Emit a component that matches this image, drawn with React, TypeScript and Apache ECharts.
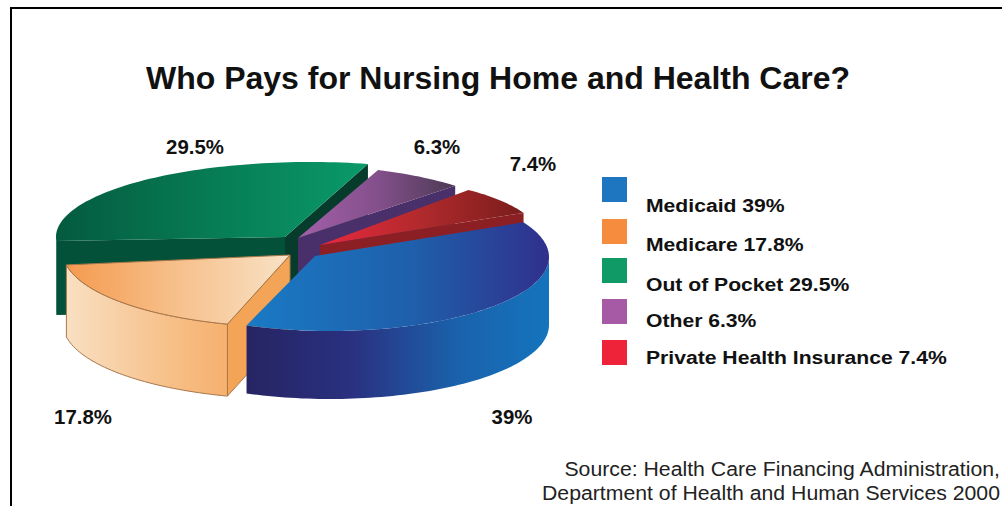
import React, { useEffect, useRef } from "react";
import * as echarts from "echarts";

const categories = ["Medicaid", "Medicare", "Out of Pocket", "Other", "Private Health Insurance"];
const shares = [39, 17.8, 29.5, 6.3, 7.4];
const titleText = "Who Pays for Nursing Home and Health Care?";
const sourceLines = [
  "Source: Health Care Financing Administration,",
  "Department of Health and Human Services 2000",
];

// Back-to-front painting order of the slices.
const paintOrder = [2, 3, 4, 1, 0];
const firstSliceAngle = -30;

// Where each exploded slice sits: ellipse centre and radii, tip of the wedge, wall height, angle tweak.
const sliceFrames = [
  { cx: 330, cy: 257, rx: 219, ry: 74, tipX: 315, tipY: 256, depth: 68, turn: 2 },
  { cx: 290, cy: 252, rx: 227, ry: 75, tipX: 290, tipY: 255, depth: 72, turn: -4.4 },
  { cx: 310, cy: 237, rx: 254, ry: 75, tipX: 285, tipY: 237, depth: 74, turn: 2.5 },
  { cx: 295, cy: 240, rx: 232, ry: 75, tipX: 298, tipY: 238, depth: 70, turn: 10.3 },
  { cx: 340, cy: 237.5, rx: 200, ry: 62, tipX: 320, tipY: 245, depth: 70, turn: 6.6 },
];

const sliceColors = [
  {
    top: [[0, "#1a7ac4"], [0.55, "#1f5fab"], [1, "#30308c"]],
    wall: [[0, "#262463"], [0.35, "#2a3180"], [0.7, "#1a62ac"], [1, "#1474bc"]],
    cutStart: "#262463",
    cutEnd: "#262463",
    edge: "none",
  },
  {
    top: [[0, "#f59a4f"], [0.45, "#f6bd86"], [1, "#f8e2c6"]],
    wall: [[0, "#f8e0c2"], [0.5, "#f7bd84"], [1, "#f4a052"]],
    cutStart: "#f4a456",
    cutEnd: "#f4a456",
    edge: "#a9774a",
  },
  {
    top: [[0, "#045a3f"], [0.5, "#077c54"], [1, "#0a9a69"]],
    wall: [[0, "#04573d"], [1, "#04573d"]],
    cutStart: "#04513a",
    cutEnd: "#073b2c",
    edge: "none",
  },
  {
    top: [[0, "#a35fa8"], [0.5, "#84508c"], [1, "#4c3a55"]],
    wall: [[0, "#4a2f6e"], [1, "#4a2f6e"]],
    cutStart: "#4a2f6e",
    cutEnd: "#49306b",
    edge: "none",
  },
  {
    top: [[0, "#e9283c"], [0.5, "#b02a2c"], [1, "#7a1c1c"]],
    wall: [[0, "#8c1f24"], [1, "#8c1f24"]],
    cutStart: "#8c1f24",
    cutEnd: "#8c1f24",
    edge: "none",
  },
];

const legendColors = ["#1e76c0", "#f58c3e", "#0f9a66", "#a65aa6", "#ee2238"];
const legendSwatchTops = [177, 219, 258, 299, 340];
const legendTextMiddles = [206, 245, 285, 321, 358];

// Slice labels, anchored by their centre.
const labelSpots = [
  { x: 512, y: 417 },
  { x: 83, y: 417 },
  { x: 195, y: 147 },
  { x: 437, y: 147 },
  { x: 533, y: 164 },
];

const FONT = '"Liberation Sans", Arial, sans-serif';
const rad = (d: number) => (d * Math.PI) / 180;

function sliceStartAngle(index: number) {
  let sum = 0;
  for (let i = 0; i < index; i++) sum += shares[i];
  return firstSliceAngle + sum * 3.6 + sliceFrames[index].turn;
}

function arcPoints(f: any, from: number, to: number, drop = 0) {
  const pts: number[][] = [];
  const steps = Math.max(2, Math.ceil(Math.abs(to - from) / 1.5));
  for (let i = 0; i <= steps; i++) {
    const a = rad(from + ((to - from) * i) / steps);
    pts.push([f.cx + f.rx * Math.cos(a), f.cy + f.ry * Math.sin(a) + drop]);
  }
  return pts;
}

function ramp(stops: any[], x0: number, x1: number) {
  return new echarts.graphic.LinearGradient(
    x0, 0, x1, 0,
    stops.map(([offset, color]) => ({ offset, color })),
    true
  );
}

function renderSlice(_params: any, api: any) {
  const index = api.value(0);
  const share = api.value(1);
  const f = sliceFrames[index];
  const colors = sliceColors[index];
  const from = sliceStartAngle(index);
  const to = from + share * 3.6;
  const rim = arcPoints(f, from, to);
  const xs = rim.map((p) => p[0]).concat(f.tipX);
  const minX = Math.min(...xs);
  const maxX = Math.max(...xs);
  const children: any[] = [];
  const lineStyle = colors.edge === "none" ? {} : { stroke: colors.edge, lineWidth: 1 };

  const cutFace = (p: number[], fill: string) =>
    children.push({
      type: "polygon",
      shape: {
        points: [
          [f.tipX, f.tipY],
          p,
          [p[0], p[1] + f.depth],
          [f.tipX, f.tipY + f.depth],
        ],
      },
      style: { fill, ...lineStyle },
    });

  // Cut faces show only where they turn towards the viewer.
  if (Math.cos(rad(from)) < 0) cutFace(rim[0], colors.cutStart);
  if (Math.cos(rad(to)) > 0) cutFace(rim[rim.length - 1], colors.cutEnd);

  // The outer wall exists on the front half of the ellipse.
  const wallFrom = Math.max(from, 0);
  const wallTo = Math.min(to, 180);
  if (wallTo > wallFrom) {
    const upper = arcPoints(f, wallFrom, wallTo);
    const lower = arcPoints(f, wallTo, wallFrom, f.depth);
    children.push({
      type: "polygon",
      shape: { points: upper.concat(lower) },
      style: { fill: ramp(colors.wall, minX, maxX), ...lineStyle },
    });
  }

  children.push({
    type: "polygon",
    shape: { points: [[f.tipX, f.tipY], ...rim] },
    style: { fill: ramp(colors.top, minX, maxX), ...lineStyle },
  });

  return { type: "group", children };
}

// A text element, optionally stretched sideways about its anchor for the wide legend captions.
function caption(text: string, x: number, y: number, font: string, align: string, stretch: number, fill = "#111") {
  return {
    type: "text",
    x,
    y,
    scaleX: stretch,
    style: { text, font, fill, textAlign: align, textVerticalAlign: "middle" },
  };
}

function buildGraphics() {
  const elements: any[] = [
    { type: "rect", shape: { x: 10, y: 7, width: 2, height: 499 }, style: { fill: "#000" } },
    { type: "rect", shape: { x: 10, y: 7, width: 992, height: 2 }, style: { fill: "#000" } },
    caption(titleText, 498, 78, `bold 32px ${FONT}`, "center", 1),
  ];
  categories.forEach((name, i) => {
    elements.push({
      type: "rect",
      shape: { x: 602, y: legendSwatchTops[i], width: 25, height: 25 },
      style: { fill: legendColors[i] },
    });
    elements.push(caption(`${name} ${shares[i]}%`, 646, legendTextMiddles[i], `bold 18px ${FONT}`, "left", 1.175));
    elements.push(caption(`${shares[i]}%`, labelSpots[i].x, labelSpots[i].y, `bold 20px ${FONT}`, "center", 1.02));
  });
  sourceLines.forEach((line, i) => {
    elements.push(caption(line, 1000, 469 + i * 24, `21px ${FONT}`, "right", 1.012, "#222"));
  });
  return elements;
}

export default function App() {
  const ref = useRef<HTMLDivElement>(null);
  useEffect(() => {
    document.body.style.margin = "0";
    const chart = echarts.init(ref.current!, null, { renderer: "svg" });
    chart.setOption({
      animation: false,
      backgroundColor: "#fff",
      series: [
        {
          type: "custom",
          coordinateSystem: "none",
          silent: true,
          renderItem: renderSlice,
          data: paintOrder.map((i) => [i, shares[i]]),
        },
      ],
      graphic: buildGraphics(),
    });
    return () => chart.dispose();
  }, []);
  return <div ref={ref} style={{ width: 1002, height: 506 }} />;
}
